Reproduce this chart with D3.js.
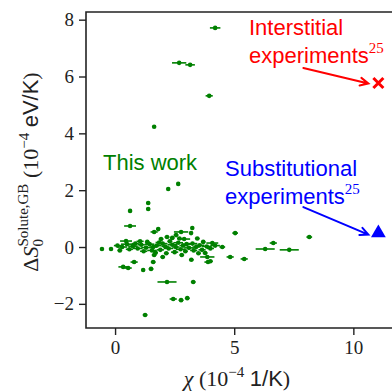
<!DOCTYPE html>
<html>
<head>
<meta charset="utf-8">
<script src="https://cdn.jsdelivr.net/npm/d3@7"></script>
<style>
  html, body { margin: 0; padding: 0; background: #fff; }
  svg { display: block; }
</style>
</head>
<body>
<svg id="chart" width="392" height="392"></svg>
<script>
// Computed solute segregation entropies (this work): chi, dS, and chi uncertainty
const thisWorkChi = [
  4.20, 2.69, 3.15, 3.95, 1.64, 2.65, 2.23, 1.39, 1.39, 0.63,
  0.63, 1.64, 1.81, 3.24, 3.19, 2.77, 5.04, 2.56, 2.18, 1.93,
  2.90, 0.46, 4.08, 3.70, -0.55, -0.17, 4.50,
  0.10, 0.30, 0.50, 0.75, 0.95, 1.10, 1.30, 1.45, 1.60, 1.75,
  1.90, 2.00, 2.10, 2.25, 2.40, 2.55, 2.65, 2.75, 2.85, 3.00,
  3.10, 3.25, 3.40, 3.55, 3.65, 3.85, 4.00, 4.20,
  0.20, 0.60, 0.85, 1.20, 1.35, 1.70, 1.55, 2.30, 2.50, 2.95,
  3.30, 3.50, 2.15, 1.05, 2.70, 2.40, 3.45, 1.85,
  3.78, 3.87, 3.90, 4.83, 1.64, 1.60, 0.80, 0.34, 0.55, 1.18,
  1.51, 2.18, 3.28, 2.44, 2.77, 3.03, 1.26, 2.00, 2.80, 3.20, 4.00,
  8.15, 6.64, 6.30, 7.31, 5.42
];
const thisWorkS = [
  7.71, 6.48, 6.41, 5.32, 4.23, 2.22, 2.04, 1.55, 1.34, 1.27,
  0.74, 0.53, 0.63, 0.67, 0.49, 0.53, 0.49, 0.42, 0.35, 0.28,
  0.28, 0.21, 0.14, 0.18, -0.07, -0.07, 0.00,
  0.05, 0.00, 0.10, 0.03, -0.05, 0.08, -0.02, 0.10, 0.00, 0.05,
  -0.10, 0.12, 0.02, -0.05, 0.08, 0.00, 0.15, -0.08, 0.05, 0.10,
  -0.03, 0.12, 0.00, 0.06, -0.10, 0.02, -0.05, 0.05,
  -0.12, -0.08, 0.12, -0.15, 0.18, -0.20, -0.12, 0.20, -0.18, -0.15,
  -0.12, -0.22, -0.22, 0.20, 0.30, 0.32, 0.30, 0.16,
  -0.21, -0.35, -0.53, -0.35, -0.28, -0.53, -0.53, -0.70, -0.74, -0.81,
  -0.77, -1.23, -1.23, -1.83, -1.87, -1.80, -2.39, -0.35, -0.28, -0.45, -0.50,
  0.35, 0.14, -0.07, -0.10, -0.42
];
const thisWorkChiErr = [
  0.22, 0.30, 0.20, 0.15, 0.05, 0.05, 0.05, 0.08, 0.08, 0.05,
  0.25, 0.15, 0.08, 0.05, 0.05, 0.30, 0.12, 0.10, 0.10, 0.10,
  0.25, 0.25, 0.25, 0.10, 0.05, 0.08, 0.12,
  0.15, 0.20, 0.25, 0.20, 0.20, 0.15, 0.20, 0.20, 0.15, 0.20,
  0.15, 0.20, 0.15, 0.20, 0.20, 0.15, 0.20, 0.20, 0.15, 0.20,
  0.20, 0.20, 0.15, 0.20, 0.15, 0.20, 0.15, 0.20,
  0.10, 0.15, 0.15, 0.15, 0.10, 0.10, 0.20, 0.10, 0.15, 0.10,
  0.15, 0.10, 0.10, 0.15, 0.10, 0.10, 0.10, 0.15,
  0.10, 0.30, 0.15, 0.15, 0.10, 0.10, 0.15, 0.20, 0.15, 0.05,
  0.10, 0.40, 0.10, 0.15, 0.10, 0.10, 0.10, 0.10, 0.10, 0.10, 0.10,
  0.12, 0.15, 0.40, 0.40, 0.15
];

// Experimental reference values (ref. 25)
const interstitialChi = [11.05];
const interstitialS = [5.77];
const substitutionalChi = [11.05];
const substitutionalS = [0.49];

const yTicks = [-2, 0, 2, 4, 6, 8];
const xTicks = [0, 5, 10];

const svg = d3.select("#chart");
const x = d3.scaleLinear().domain([-1.22, 12.0]).range([86, 401]);
const y = d3.scaleLinear().domain([-2.85, 8.27]).range([328, 12]);

const green = "#008000";
const serif = "'Liberation Serif', 'DejaVu Serif', serif";
const sans = "'Liberation Sans', Arial, sans-serif";
const fmt = d => (d < 0 ? "\u2212" + Math.abs(d) : String(d));

// axes
const yAxis = svg.append("g").attr("transform", `translate(${x.range()[0]},0)`)
  .call(d3.axisLeft(y).tickValues(yTicks).tickFormat(fmt).tickSize(7).tickPadding(5));
const xAxis = svg.append("g").attr("transform", `translate(0,${y.range()[0]})`)
  .call(d3.axisBottom(x).tickValues(xTicks).tickFormat(fmt).tickSize(7).tickPadding(6));
[yAxis, xAxis].forEach(g => {
  g.select(".domain").remove();
  g.selectAll(".tick line").attr("stroke", "#222").attr("stroke-width", 1.4);
  g.selectAll(".tick text").attr("fill", "#222").style("font-family", serif).style("font-size", "19px");
});

// frame (left, top, bottom)
svg.append("path")
  .attr("d", `M${x.range()[1]},${y(y.domain()[1])}H${x.range()[0]}V${y(y.domain()[0])}H${x.range()[1]}`)
  .attr("fill", "none").attr("stroke", "#222").attr("stroke-width", 1.6);

// this work: horizontal error bars + dots
const pts = thisWorkChi.map((c, i) => ({ c, s: thisWorkS[i], e: thisWorkChiErr[i] }));
const gPts = svg.append("g");
gPts.selectAll("line").data(pts).join("line")
  .attr("x1", d => x(d.c - d.e)).attr("x2", d => x(d.c + d.e))
  .attr("y1", d => y(d.s)).attr("y2", d => y(d.s))
  .attr("stroke", green).attr("stroke-width", 1.6);
gPts.selectAll("circle").data(pts).join("circle")
  .attr("cx", d => x(d.c)).attr("cy", d => y(d.s)).attr("r", 2.3)
  .attr("fill", green);

// experiments: interstitial (x marker) and substitutional (triangle)
const gInt = svg.append("g");
interstitialChi.forEach((c, i) => {
  const cx = x(c), cy = y(interstitialS[i]), h = 5;
  gInt.append("path")
    .attr("d", `M${cx - h},${cy - h}L${cx + h},${cy + h}M${cx - h},${cy + h}L${cx + h},${cy - h}`)
    .attr("stroke", "#ff0000").attr("stroke-width", 3).attr("fill", "none");
});
svg.append("g").selectAll("path").data(substitutionalChi).join("path")
  .attr("transform", (c, i) => `translate(${x(c)},${y(substitutionalS[i])})`)
  .attr("d", d3.symbol(d3.symbolTriangle, 95))
  .attr("fill", "#0000ff");

// annotations
function arrow(x1, y1, x2, y2, color) {
  const a = Math.atan2(y2 - y1, x2 - x1), L = 9, w = 0.45;
  svg.append("path")
    .attr("d", `M${x1},${y1}L${x2},${y2}` +
      `M${x2 - L * Math.cos(a - w)},${y2 - L * Math.sin(a - w)}L${x2},${y2}` +
      `L${x2 - L * Math.cos(a + w)},${y2 - L * Math.sin(a + w)}`)
    .attr("stroke", color).attr("stroke-width", 2).attr("fill", "none")
    .attr("stroke-linecap", "round").attr("stroke-linejoin", "miter");
}
function note(lines, x0, y0, color) {
  const t = svg.append("text").attr("fill", color).style("font-family", sans).style("font-size", "22px");
  lines.forEach((ln, i) => {
    t.append("tspan").attr("x", x0).attr("y", y0 + i * 28).text(ln.text);
    if (ln.sup) t.append("tspan").attr("dy", -10).style("font-family", serif).style("font-size", "15px").text(ln.sup);
  });
}
note([{ text: "Interstitial" }, { text: "experiments", sup: "25" }], 249, 35, "#ff0000");
arrow(x(11.05) - 75, y(5.77) - 15, x(11.05) - 10, y(5.77) + 0.5, "#ff0000");
note([{ text: "Substitutional" }, { text: "experiments", sup: "25" }], 225, 176, "#0000ff");
arrow(x(11.05) - 75, y(0.49) - 26, x(11.05) - 10, y(0.49) + 1.5, "#0000ff");
svg.append("text").attr("x", 103).attr("y", 170).attr("fill", green)
  .style("font-family", sans).style("font-size", "22px").text("This work");

// axis titles
const xl = svg.append("text").attr("x", 237).attr("y", 386).attr("text-anchor", "middle")
  .attr("fill", "#222").style("font-family", serif).style("font-size", "22px");
xl.append("tspan").style("font-style", "italic").text("\u03c7");
xl.append("tspan").text(" (10");
xl.append("tspan").attr("dy", -9).style("font-size", "15px").text("\u22124");
xl.append("tspan").attr("dy", 9).text(" ");
xl.append("tspan").style("font-family", sans).text("1/K");
xl.append("tspan").text(")");

// y title: Delta S with subscript 0 and superscript "Solute,GB" stacked
const yl = svg.append("text").attr("transform", "translate(38,172) rotate(-90)").attr("text-anchor", "middle")
  .attr("fill", "#222").style("font-family", serif).style("font-size", "22px");
yl.append("tspan").text("\u0394");
yl.append("tspan").style("font-style", "italic").text("S");
yl.append("tspan").attr("dy", 5).style("font-size", "15px").text("0");
yl.append("tspan").attr("dx", -7.5).attr("dy", -15).style("font-size", "15px").text("Solute,GB");
yl.append("tspan").attr("dy", 10).text(" (10");
yl.append("tspan").attr("dy", -9).style("font-size", "15px").text("\u22124");
yl.append("tspan").attr("dy", 9).text(" ");
yl.append("tspan").style("font-family", sans).text("eV/K");
yl.append("tspan").text(")");
</script>
</body>
</html>
